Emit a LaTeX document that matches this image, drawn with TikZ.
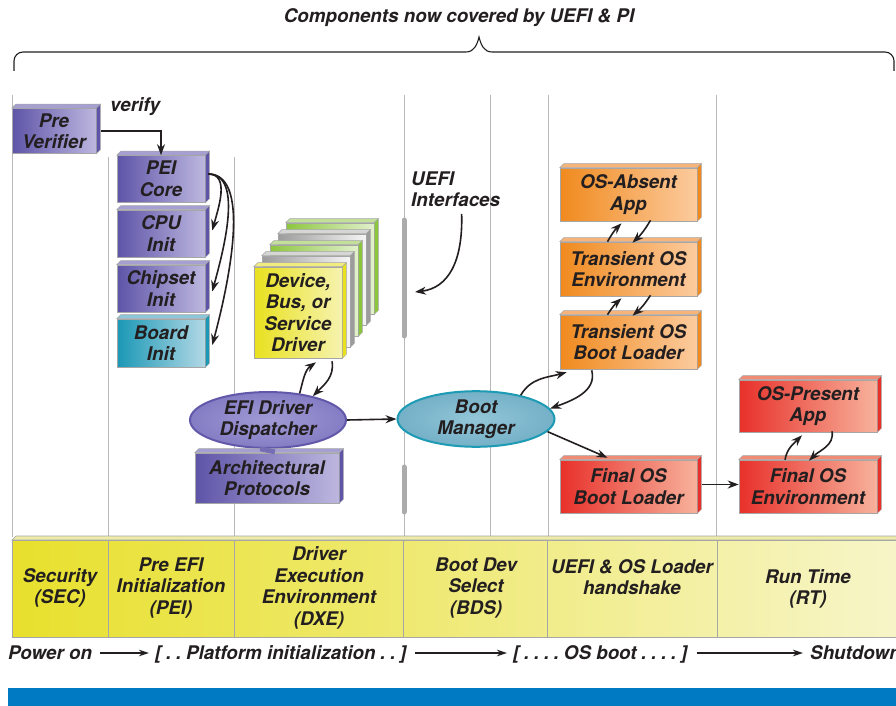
\documentclass[tikz,border=0pt]{standalone}
\usepackage{fontspec}
\setmainfont{TeX Gyre Heros}
\usetikzlibrary{arrows.meta,shapes.geometric,calc}

\definecolor{ink}{HTML}{231F20}
\definecolor{rule}{HTML}{B8B8B8}
\definecolor{edge}{HTML}{A6A6A6}
\definecolor{ifbar}{HTML}{ABABAB}
\definecolor{purA}{HTML}{5E54A8}
\definecolor{purB}{HTML}{BDB7DF}
\definecolor{purTop}{HTML}{A59FD2}
\definecolor{tealA}{HTML}{1B98B6}
\definecolor{tealB}{HTML}{B2D8E5}
\definecolor{tealTop}{HTML}{8CC6D8}
\definecolor{yelA}{HTML}{E9E11E}
\definecolor{yelB}{HTML}{F6F3B0}
\definecolor{yelTop}{HTML}{F1EC80}
\definecolor{grayA}{HTML}{9C9C9C}
\definecolor{grayB}{HTML}{F5F5F5}
\definecolor{grayTop}{HTML}{D6D6D6}
\definecolor{grnA}{HTML}{8CC63F}
\definecolor{grnB}{HTML}{E2F0CC}
\definecolor{grnTop}{HTML}{C2E09A}
\definecolor{orA}{HTML}{F08A1E}
\definecolor{orB}{HTML}{FCCB9E}
\definecolor{orTop}{HTML}{F7B47A}
\definecolor{redA}{HTML}{E8302A}
\definecolor{redB}{HTML}{F7B29C}
\definecolor{redTop}{HTML}{F08C76}
\definecolor{dispIn}{HTML}{A09AD5}
\definecolor{dispOut}{HTML}{857DC4}
\definecolor{dispEdge}{HTML}{6258AA}
\definecolor{bmIn}{HTML}{93C6D8}
\definecolor{bmOut}{HTML}{74B0C7}
\definecolor{bmEdge}{HTML}{1D9BB4}
\definecolor{barA}{HTML}{E8E02C}
\definecolor{barB}{HTML}{F7F5C9}
\definecolor{barTop}{HTML}{EEEBA8}
\definecolor{blueband}{HTML}{007AC2}

% top and right faces of a raised box node
\newcommand\boxfaces[3]{%
  \filldraw[fill=#2,draw=edge,line width=0.5pt] (#1.north west) -- ++(4,-4)
    -- ($(#1.north east)+(4,-4)$) -- (#1.north east) -- cycle;
  \filldraw[fill=#3,draw=edge,line width=0.5pt] (#1.north east) -- ++(4,-4)
    -- ($(#1.south east)+(4,-4)$) -- (#1.south east) -- cycle;}
% narrow gap between the dots of the timeline
\newcommand\dg{\hspace{0.25em}}

\tikzset{
  lbl/.style={font=\fontsize{18.8}{21.5}\selectfont\bfseries\itshape, text=ink,
    align=center, inner sep=0pt},
  box/.style 2 args={lbl, rectangle, draw=edge, line width=0.6pt,
    left color=#1, right color=#2},
  ell/.style={lbl, ellipse, inner sep=0pt, line width=2pt},
  rulev/.style={draw=rule, line width=0.9pt},
  arr/.style={-{Stealth[length=11pt,width=8pt]}, line width=1.6pt, draw=ink},
  thinarr/.style={-{Stealth[length=10pt,width=6.5pt]}, line width=1.3pt, draw=ink},
}

\begin{document}
\begin{tikzpicture}[x=1pt,y=-1pt]
\useasboundingbox (0,0) rectangle (896,706);
\fill[white] (0,0) rectangle (896,706);

% heading and brace
\node[lbl] (title) at (459,18) {Components now covered by UEFI \& PI};
\draw[ink, line width=1.1pt] (14,71) -- (14,61) to[out=90,in=180] (23,52)
  -- (466,52) .. controls (474,52) and (477,45) .. (479,37)
  .. controls (481,45) and (484,52) .. (492,52) -- (885,52)
  to[out=0,in=90] (894,61) -- (894,71);

% phase separators
\foreach \xx/\yy in {12/95,108/157,234/157,404/95,490/95,548/95,716/95}
  \draw[rulev] (\xx,\yy) -- (\xx,537);

% UEFI interface bars
\draw[ifbar, line width=5pt, line cap=round] (404,220) -- (404,336);
\draw[ifbar, line width=5pt, line cap=round] (404,467) -- (404,512);

% SEC
\node[box={purA}{purB}, minimum width=84pt, minimum height=45pt] (prever) at (54,131) {Pre\\Verifier};
\boxfaces{prever}{purTop}{purA}
\node[lbl, anchor=base west] (verify) at (110,112) {verify};

% PEI
\node[box={purA}{purB}, minimum width=88pt, minimum height=47pt] (pei) at (161,179) {PEI\\Core};
\boxfaces{pei}{purTop}{purA}
\node[box={purA}{purB}, minimum width=88pt, minimum height=47pt] (cpu) at (161,233.5) {CPU\\Init};
\boxfaces{cpu}{purTop}{purA}
\node[box={purA}{purB}, minimum width=88pt, minimum height=47pt] (chip) at (161,288.5) {Chipset\\Init};
\boxfaces{chip}{purTop}{purA}
\node[box={tealA}{tealB}, minimum width=88pt, minimum height=48pt] (board) at (161,343) {Board\\Init};
\boxfaces{board}{tealTop}{tealA}

\draw[arr] ([xshift=5pt]prever.east) -| (pei.north);
\draw[arr] ([xshift=3pt,yshift=5pt]pei.east) to[out=0,in=75,looseness=1] ([xshift=7pt,yshift=3pt]cpu.east);
\draw[arr] ([xshift=3pt,yshift=5pt]pei.east) to[out=0,in=75,looseness=0.8] ([xshift=7pt,yshift=-3pt]chip.east);
\draw[arr] ([xshift=3pt,yshift=5pt]pei.east) to[out=0,in=75,looseness=0.7] ([xshift=7pt,yshift=-2pt]board.east);

% DXE driver stack
\node[box={grnA}{grnB}, minimum width=88pt, minimum height=91pt] (drvd) at (330,268.5) {};
\boxfaces{drvd}{grnTop}{grnA}
\node[box={grayA}{grayB}, minimum width=88pt, minimum height=91pt] (drvc) at (322,279.5) {};
\boxfaces{drvc}{grayTop}{grayA}
\node[box={grnA}{grnB}, minimum width=88pt, minimum height=91pt] (drvb) at (314,290.5) {};
\boxfaces{drvb}{grnTop}{grnA}
\node[box={grayA}{grayB}, minimum width=88pt, minimum height=91pt] (drva) at (306,301.5) {};
\boxfaces{drva}{grayTop}{grayA}
\node[box={yelA}{yelB}, minimum width=88pt, minimum height=91pt] (driver) at (298,312.5) {Device,\\Bus, or\\Service\\Driver};
\boxfaces{driver}{yelTop}{yelA}

\node[ell, draw=dispEdge, inner color=dispIn, outer color=dispOut,
  minimum width=156pt, minimum height=52pt] (disp) at (268,420) {EFI Driver\\Dispatcher};
\node[box={purA}{purB}, minimum width=144pt, minimum height=50pt] (arch) at (267,478) {Architectural\\Protocols};
\boxfaces{arch}{purTop}{purA}
\draw[purA!85, line width=15pt] ([yshift=1pt]disp.south) -- (arch.north);

\draw[arr] (disp.40) to[out=75,in=215] ([xshift=18pt,yshift=-4pt]driver.south);
\draw[arr] ([xshift=34pt,yshift=-3pt]driver.south) to[out=-80,in=45] (disp.28);

% BDS
\node[ell, draw=bmEdge, inner color=bmIn, outer color=bmOut,
  minimum width=157pt, minimum height=50pt] (bm) at (476,419) {Boot\\Manager};
\draw[arr] (disp.east) -- (bm.west);

\node[lbl, align=left, anchor=west] (uefi) at (411,189) {UEFI\\Interfaces};
\coordinate (ifc) at (415,292);
\draw[arr] ([xshift=6pt,yshift=-7pt]uefi.south) .. controls (463,262) and (448,288) .. (ifc);

% OS loader handshake
\node[box={orA}{orB}, minimum width=137pt, minimum height=53pt] (oa) at (628.5,194.5) {OS-Absent\\App};
\boxfaces{oa}{orTop}{orA}
\node[box={orA}{orB}, minimum width=137pt, minimum height=54pt] (te) at (628.5,269) {Transient OS\\Environment};
\boxfaces{te}{orTop}{orA}
\node[box={orA}{orB}, minimum width=137pt, minimum height=54pt] (tl) at (628.5,342) {Transient OS\\Boot Loader};
\boxfaces{tl}{orTop}{orA}
\node[box={redA}{redB}, minimum width=137pt, minimum height=53pt] (fl) at (628.5,486.5) {Final OS\\Boot Loader};
\boxfaces{fl}{redTop}{redA}

\draw[arr] ([xshift=-21pt]te.north) to[bend left=8] ([xshift=-7pt,yshift=-2pt]oa.south);
\draw[arr] ([xshift=22pt,yshift=1pt]oa.south) to[bend left=8] ([xshift=4pt,yshift=-1pt]te.north);
\draw[arr] ([xshift=-21pt]tl.north) to[bend left=8] ([xshift=-7pt,yshift=-2pt]te.south);
\draw[arr] ([xshift=22pt,yshift=1pt]te.south) to[bend left=8] ([xshift=4pt,yshift=-1pt]tl.north);

\draw[arr] (bm.28) to[out=60,in=195] ([xshift=7pt,yshift=-3pt]tl.south west);
\draw[arr] ([xshift=32pt,yshift=-1pt]tl.south west) to[out=-75,in=20] (bm.8);
\draw[arr] (bm.-10) -- ([xshift=-21pt,yshift=2pt]fl.north);

% RT
\node[box={redA}{redB}, minimum width=138pt, minimum height=52pt] (op) at (808,406) {OS-Present\\App};
\boxfaces{op}{redTop}{redA}
\node[box={redA}{redB}, minimum width=138pt, minimum height=53pt] (fe) at (808,486.5) {Final OS\\Environment};
\boxfaces{fe}{redTop}{redA}

\draw[arr] ([xshift=5pt,yshift=2pt]fl.east) -- ([yshift=2pt]fe.west);
\draw[arr] ([xshift=-23pt]fe.north) to[out=80,in=225] ([xshift=-6pt,yshift=-3pt]op.south);
\draw[arr] ([xshift=24pt,yshift=1pt]op.south) to[out=-80,in=45] ([xshift=1pt,yshift=-1pt]fe.north);

% phase bar
\filldraw[fill=barTop, draw=edge, line width=0.6pt] (12,540) -- (16,536) -- (900,536) -- (900,540) -- cycle;
\node[rectangle, draw=edge, line width=0.8pt, left color=barA, right color=barB,
  minimum width=890pt, minimum height=97pt, anchor=north west, inner sep=0pt] (bar) at (12,540) {};
\foreach \xx in {108,234,403,547,717}
  \draw[draw=edge, line width=0.8pt] (\xx,540) -- (\xx,637);

\node[lbl] (sec) at (60,588) {Security\\(SEC)};
\node[lbl] (pe) at (171,588) {Pre EFI\\Initialization\\(PEI)};
\node[lbl] (dxe) at (319,588) {Driver\\Execution\\Environment\\(DXE)};
\node[lbl] (bds) at (476,588) {Boot Dev\\Select\\(BDS)};
\node[lbl] (hs) at (632,577) {UEFI \& OS Loader\\handshake};
\node[lbl] (rt) at (808,589) {Run Time\\(RT)};

% timeline
\node[lbl, anchor=base west] (pon) at (8,659) {Power on};
\node[lbl, anchor=base west] (plat) at (155,659) {[\dg.\dg.\dg Platform initialization\dg.\dg.\dg]};
\node[lbl, anchor=base west] (osb) at (513,659) {[\dg.\dg.\dg.\dg.\dg OS boot\dg.\dg.\dg.\dg.\dg]};
\node[lbl, anchor=base west] (shut) at (810,659) {Shutdown};
\draw[thinarr] ($(pon.base east)+(8,-6)$) -- ($(plat.base west)+(-6,-6)$);
\draw[thinarr] ($(plat.base east)+(8,-6)$) -- ($(osb.base west)+(-6,-6)$);
\draw[thinarr] ($(osb.base east)+(9,-6)$) -- ($(shut.base west)+(-7,-6)$);

% footer band
\fill[blueband] (8,688) rectangle (896,706);
\end{tikzpicture}
\end{document}
